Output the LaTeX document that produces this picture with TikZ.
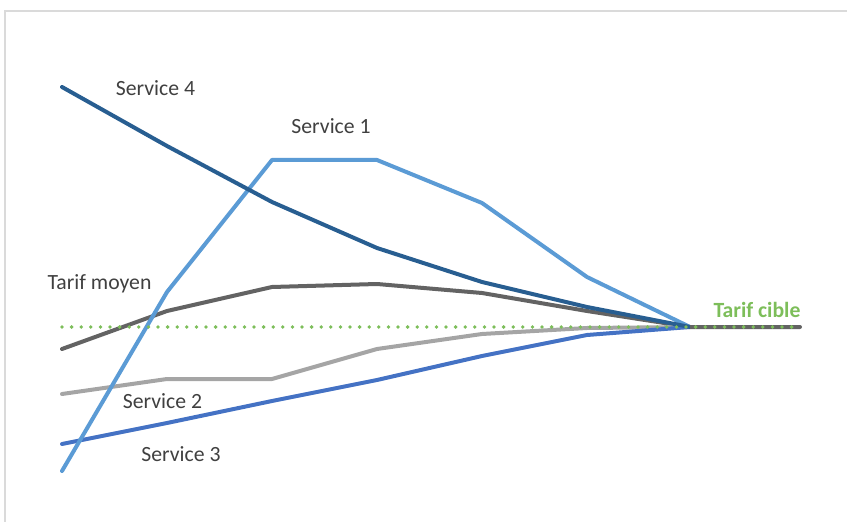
\documentclass[tikz,border=0pt]{standalone}
\usepackage{fontspec}
\setmainfont{Carlito}
\definecolor{sfour}{RGB}{40,94,145}
\definecolor{sone}{RGB}{91,155,213}
\definecolor{sthree}{RGB}{68,114,196}
\definecolor{stwo}{RGB}{165,165,165}
\definecolor{moyen}{RGB}{99,99,99}
\definecolor{cible}{RGB}{125,190,90}
\definecolor{frame}{RGB}{218,218,218}
\definecolor{txt}{RGB}{64,64,64}
\begin{document}
\begin{tikzpicture}[x=1bp,y=-1bp,
  serie/.style={line width=4bp,line join=round,line cap=round},
  lbl/.style={anchor=base,text=txt,font=\fontsize{21.8}{26}\selectfont,inner sep=0pt}]
\useasboundingbox (0,0) rectangle (847,522);
\draw[frame,line width=2bp] (5,522) -- (5,11) -- (847,11);
% series
\draw[serie,moyen] (62,349) -- (167,311) -- (272,287) -- (377,284) -- (482,293) -- (587,311) -- (690,327) -- (800,327);
\draw[serie,stwo] (62,394) -- (167,379) -- (272,379) -- (377,349) -- (482,334) -- (587,328) -- (690,327);
\draw[serie,sthree] (62,444) -- (167,423) -- (272,401) -- (377,380) -- (482,356) -- (587,335) -- (690,327);
\draw[serie,sone] (62,471) -- (167,292) -- (272,160) -- (377,160) -- (482,203) -- (587,277) -- (690,327);
\draw[serie,sfour] (62,87) -- (167,146) -- (272,202) -- (377,248) -- (482,282) -- (587,307) -- (690,327);
\draw[moyen,line width=4bp] (690,327) -- (800,327);
% target
\draw[cible,line width=3.8bp,line cap=round,dash pattern=on 0bp off 9.6bp] (62,327) -- (800,327);
% labels
\node[lbl] (l4) at (155.5,96) {Service 4};
\node[lbl] (l1) at (331,134) {Service 1};
\node[lbl] (lm) at (99.5,290) {Tarif moyen};
\node[lbl] (l2) at (162.5,408) {Service 2};
\node[lbl] (l3) at (181,461) {Service 3};
\node[lbl,text=cible,font=\fontsize{21.8}{26}\selectfont\bfseries] (lc) at (757,318) {Tarif cible};
\end{tikzpicture}
\end{document}
